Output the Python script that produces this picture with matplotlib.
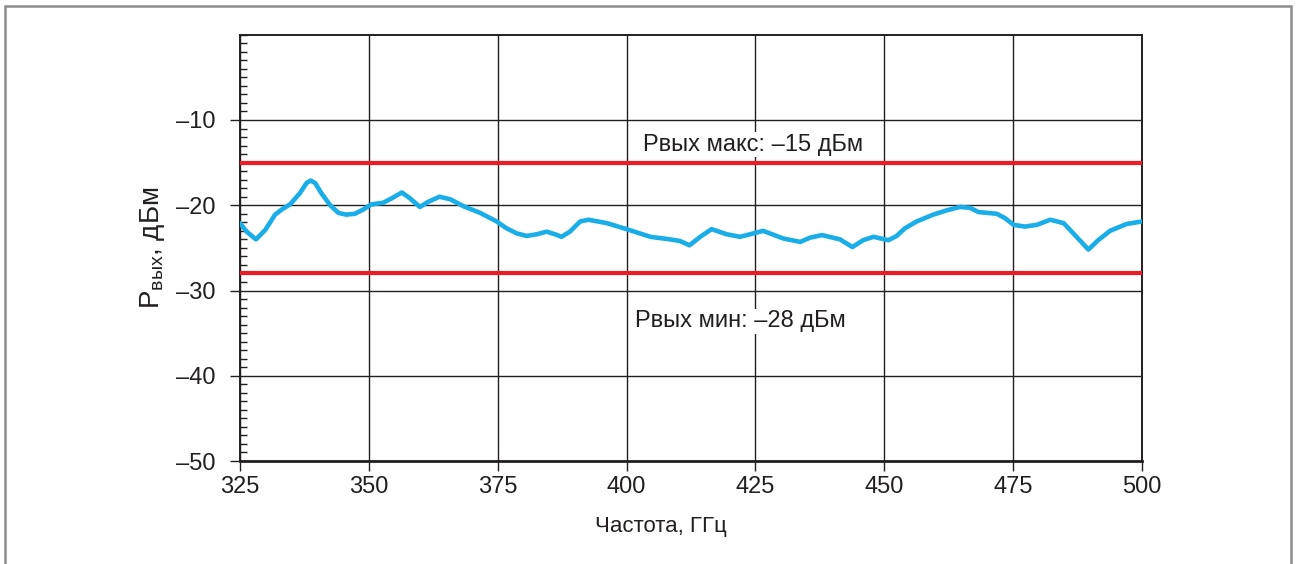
import numpy as np
import matplotlib.pyplot as plt
from matplotlib.patches import Rectangle
from matplotlib.ticker import MultipleLocator

plt.rcParams['font.family'] = ['Liberation Sans', 'DejaVu Sans']

freq = [325.0, 326.3, 328.1, 329.9, 331.8, 333.1, 334.7, 336.6, 337.9, 338.7,
        339.6, 340.8, 342.5, 344.1, 345.6, 347.3, 348.9, 350.5, 352.8, 354.4,
        356.4, 358.0, 359.9, 361.5, 363.7, 365.8, 368.3, 371.6, 374.8, 376.7,
        378.7, 380.6, 382.6, 384.5, 386.1, 387.4, 389.0, 391.0, 392.6, 396.2,
        400.0, 404.6, 408.4, 410.4, 412.2, 414.3, 416.5, 419.4, 422.0, 424.0,
        426.5, 430.4, 433.7, 435.6, 437.9, 441.4, 443.8, 445.9, 447.9, 450.8,
        452.4, 454.0, 456.3, 459.5, 462.1, 464.7, 466.6, 468.3, 471.8, 473.4,
        475.1, 477.3, 479.6, 482.2, 484.8, 487.3, 489.6, 491.5, 493.8, 497.0,
        500.0]
p_out = [-22.1, -23.1, -24.0, -22.9, -21.1, -20.5, -19.9, -18.6, -17.4, -17.1,
         -17.4, -18.6, -20.0, -20.9, -21.1, -21.0, -20.5, -19.9, -19.7, -19.2,
         -18.5, -19.2, -20.2, -19.6, -19.0, -19.3, -20.1, -20.9, -21.9, -22.7,
         -23.3, -23.6, -23.4, -23.1, -23.4, -23.7, -23.1, -21.9, -21.7, -22.1,
         -22.8, -23.7, -24.0, -24.2, -24.7, -23.7, -22.8, -23.4, -23.7, -23.4,
         -23.0, -23.9, -24.3, -23.8, -23.5, -24.0, -24.9, -24.1, -23.7, -24.1,
         -23.6, -22.7, -21.9, -21.1, -20.6, -20.2, -20.3, -20.8, -21.0, -21.5,
         -22.3, -22.5, -22.3, -21.7, -22.1, -23.7, -25.2, -24.1, -23.0, -22.2,
         -21.9]

p_max = -15
p_min = -28
x_ticks = [325, 350, 375, 400, 425, 450, 475, 500]
y_ticks = [-50, -40, -30, -20, -10]
y_labels = ['\u201350', '\u201340', '\u201330', '\u201320', '\u201310']

ink = '#231f20'

fig = plt.figure(figsize=(12.96, 5.64), dpi=100)
ax = fig.add_axes([240 / 1296, 1 - 461 / 564, 902 / 1296, (461 - 34.75) / 564])

# grey frame round the whole figure
fig.patches.append(Rectangle((5 / 1296, -0.01), 1286 / 1296, 1 - 6 / 564 + 0.01,
                             transform=fig.transFigure, fill=False,
                             edgecolor='#8c8c8c', linewidth=1.8, zorder=0))

ax.set_xlim(325, 500)
ax.set_ylim(-50, 0)
ax.set_xticks(x_ticks)
ax.set_yticks(y_ticks)
ax.set_yticklabels(y_labels)
ax.yaxis.set_minor_locator(MultipleLocator(1))
ax.tick_params(axis='both', which='major', direction='out', length=7, width=1,
               color=ink, labelsize=17, labelcolor=ink, pad=4)
ax.tick_params(axis='y', which='major', pad=11)
ax.tick_params(axis='y', which='minor', direction='in', length=5, width=1, color=ink)
ax.grid(True, which='major', color=ink, linewidth=1.0)
for side in ['left', 'right', 'top']:
    ax.spines[side].set_color(ink)
    ax.spines[side].set_linewidth(1.4)
ax.spines['bottom'].set_color(ink)
ax.spines['bottom'].set_linewidth(2.0)

ax.axhline(p_max, color='#ed1c24', linewidth=3, zorder=3)
ax.axhline(p_min, color='#ed1c24', linewidth=3, zorder=3)
ax.plot(freq, p_out, color='#1aaee8', linewidth=3.3, solid_joinstyle='round',
        solid_capstyle='round', zorder=4)

ax.text(424.5, -12.9, 'Рвых макс: \u201315 дБм', ha='center', va='center',
        fontsize=17, color=ink, zorder=5,
        bbox=dict(facecolor='white', edgecolor='none', pad=1))
ax.text(422.0, -33.6, 'Рвых мин: \u201328 дБм', ha='center', va='center',
        fontsize=17, color=ink, zorder=5,
        bbox=dict(facecolor='white', edgecolor='none', pad=1))

ax.set_xlabel('Частота, ГГц', fontsize=16, color=ink)
ax.xaxis.set_label_coords(0.467, -0.13)
ax.set_ylabel(r'$\mathregular{P_{вых}}$, дБм', fontsize=20, color=ink, labelpad=6)

fig.savefig('out.png', dpi=100)
